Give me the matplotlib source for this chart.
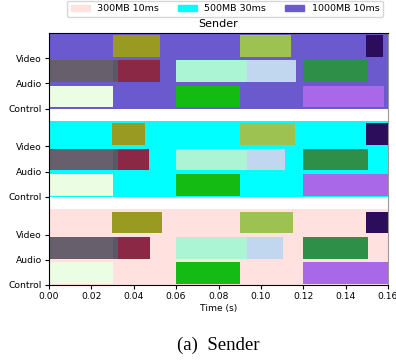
import matplotlib
matplotlib.use('Agg')
import matplotlib.pyplot as plt
from matplotlib.patches import Patch

# network settings, one band each (bottom to top)
groups = ['300MB 10ms', '500MB 30ms', '1000MB 10ms']
group_colors = ['#ffe2df', '#00ffff', '#6a5acd']
group_base = [0, 3.5, 7]
rows = ['Control', 'Audio', 'Video']

# (start, end, colour) of each message, per group
control_300 = [(0.0, 0.0303, '#ebfde3'), (0.0598, 0.0902, '#13bb13'), (0.1198, 0.160, '#a968e8')]
audio_300 = [(0.0, 0.0303, '#675f6c'), (0.0303, 0.0328, '#5e5664'), (0.0328, 0.0475, '#8a2846'),
             (0.0598, 0.0933, '#abf5d5'), (0.0933, 0.1106, '#c1d7f0'), (0.1198, 0.1504, '#2e8f48')]
video_300 = [(0.0298, 0.0533, '#999a22'), (0.0900, 0.1150, '#9dc252'), (0.1498, 0.160, '#2b0d5c')]

control_500 = [(0.0, 0.0303, '#ebfde3'), (0.0598, 0.0902, '#13bb13'), (0.1198, 0.160, '#a968e8')]
audio_500 = [(0.0, 0.0303, '#675f6c'), (0.0303, 0.0328, '#5e5664'), (0.0328, 0.0471, '#8a2846'),
             (0.0598, 0.0933, '#abf5d5'), (0.0933, 0.1116, '#c1d7f0'), (0.1198, 0.1504, '#2e8f48')]
video_500 = [(0.0298, 0.0454, '#999a22'), (0.0900, 0.1163, '#9dc252'), (0.1498, 0.160, '#2b0d5c')]

control_1000 = [(0.0, 0.0303, '#ebfde3'), (0.0598, 0.0902, '#13bb13'), (0.1198, 0.1583, '#a968e8')]
audio_1000 = [(0.0, 0.0303, '#675f6c'), (0.0303, 0.0328, '#5e5664'), (0.0328, 0.0523, '#8a2846'),
              (0.0598, 0.0933, '#abf5d5'), (0.0933, 0.1166, '#c1d7f0'), (0.1198, 0.1504, '#2e8f48')]
video_1000 = [(0.0300, 0.0525, '#999a22'), (0.0900, 0.1141, '#9dc252'), (0.1498, 0.1576, '#2b0d5c')]

spans = [[control_300, audio_300, video_300],
         [control_500, audio_500, video_500],
         [control_1000, audio_1000, video_1000]]

fig = plt.figure(figsize=(3.96, 3.64), dpi=100)
ax = fig.add_axes([49/396, 1-285/364, 339/396, 252/364])

yticks = []
ylabels = []
for g in range(len(groups)):
    base = group_base[g]
    ax.barh(base, 0.2, left=-0.02, height=3, align='edge', color=group_colors[g], zorder=1)
    for r in range(len(rows)):
        y = base + r
        yticks.append(y)
        ylabels.append(rows[r])
        for (s, e, c) in spans[g][r]:
            ax.barh(y + 0.05, e - s, left=s, height=0.86, align='edge', color=c, zorder=2)

ax.set_xlim(0, 0.16)
ax.set_ylim(0, 10)
ax.set_yticks(yticks)
ax.set_yticklabels(ylabels)
ax.tick_params(labelsize=6.6, length=3, pad=2)
ax.set_xticks([0, 0.02, 0.04, 0.06, 0.08, 0.10, 0.12, 0.14, 0.16])
ax.set_xticklabels(['0.00', '0.02', '0.04', '0.06', '0.08', '0.10', '0.12', '0.14', '0.16'])
ax.set_xlabel('Time (s)', fontsize=6.6, labelpad=2)
ax.set_title('Sender', fontsize=8, pad=4)
ax.spines['right'].set_color('#999999')

handles = [Patch(color=group_colors[i], label=groups[i]) for i in range(len(groups))]
fig.legend(handles=handles, loc='upper center', ncol=3, fontsize=6.8,
           bbox_to_anchor=(225/396, 1 - 0.5/364), borderaxespad=0)

fig.text(218/396, 1 - 345/364, '(a)  Sender', ha='center', va='center',
         fontsize=13.5, family='Liberation Serif')

fig.savefig('out.png', dpi=100)
